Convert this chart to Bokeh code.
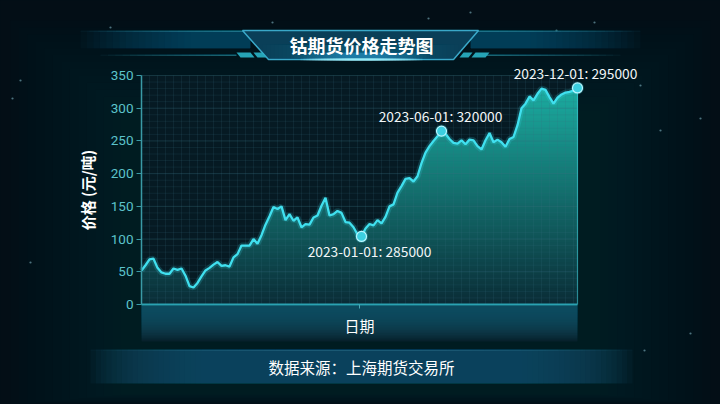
import numpy as np
from bokeh.plotting import figure
from bokeh.models import Range1d, FixedTicker, Label
from bokeh.core.properties import value
from bokeh.embed import file_html
from bokeh.resources import INLINE

# ---------------- data ----------------
price = [52, 60, 69, 70, 56, 49, 47, 47, 55, 53,
         55, 44, 28, 26, 33, 43, 52, 56, 61, 65,
         59, 60, 58, 72, 77, 90, 90, 90, 100, 93,
         106, 122, 135, 149, 146, 150, 129, 138, 128, 133,
         118, 123, 122, 133, 136, 151, 163, 136, 138, 143,
         140, 126, 125, 118, 107, 104, 116, 123, 121, 129,
         124, 134, 150, 153, 171, 181, 192, 193, 188, 196,
         216, 232, 242, 250, 257, 265, 261, 253, 247, 246,
         251, 245, 252, 251, 242, 237, 251, 262, 248, 252,
         248, 241, 253, 256, 274, 300, 307, 318, 312, 322,
         330, 328, 317, 307, 316, 321, 324, 325, 327, 331]
anno_index = [55, 75, 109]
anno_text = ["2023-01-01: 285000", "2023-06-01: 320000", "2023-12-01: 295000"]
y_ticks = [0, 50, 100, 150, 200, 250, 300, 350]
title_text = "钴期货价格走势图"
y_label = "价格 (元/吨)"
x_label = "日期"
source_text = "数据来源：上海期货交易所"

# ---------------- layout constants ----------------
W, H = 720, 404
X0PX, XSTEP = 141.0, 4.0          # pixel of index 0, pixels per index
Y0PX, YSCALE = 304.0, 229.0 / 350  # pixel of value 0, pixels per unit
CJK = "Noto Sans CJK SC"
BG = "#030e16"

vals = np.array(price, dtype=float)
idx = np.arange(len(price))
n_last = len(price) - 1
y_top = 350

p = figure(width=W, height=H, output_backend="svg", toolbar_location=None,
           x_range=Range1d(-X0PX / XSTEP, (W - X0PX) / XSTEP),
           y_range=Range1d(-(H - Y0PX) / YSCALE, Y0PX / YSCALE),
           min_border=0)
p.title.visible = False
p.extra_x_ranges = {"px": Range1d(0, W)}
p.extra_y_ranges = {"px": Range1d(H, 0)}
p.border_fill_color = BG
p.background_fill_color = BG
p.outline_line_color = None
p.grid.visible = False
PX = dict(x_range_name="px", y_range_name="px")


def rect(l, r, t, b, color, alpha):
    p.quad(left=[l], right=[r], top=[t], bottom=[b], fill_color=color,
           fill_alpha=alpha, line_color=None, **PX)


def shape(xs, ys, color, alpha, line_color=None, lw=1.0):
    p.patch(xs, ys, fill_color=color, fill_alpha=alpha, line_color=line_color,
            line_width=lw, **PX)


def nested(l_out, l_in, r_in, r_out, t_out, t_in, b_in, b_out, color, total, n=18):
    """stack of n overlapping boxes shrinking from the outer to the inner box:
    a soft fade without seams"""
    k = np.linspace(0, 1, n)
    a = 1 - (1 - total) ** (1.0 / n)
    p.quad(left=l_out + (l_in - l_out) * k, right=r_out + (r_in - r_out) * k,
           top=t_out + (t_in - t_out) * k, bottom=b_out + (b_in - b_out) * k,
           fill_color=color, fill_alpha=a, line_color=None, **PX)


# ---------- background glow ----------
nested(10, 120, 600, 710, 20, 110, 394, 404, "#0d3644", 0.35, n=14)

# stars
star_x = [272, 428, 556, 594, 20, 12, 700, 690, 644, 30, 660, 470, 110, 640]
star_y = [22, 18, 30, 22, 80, 98, 118, 333, 350, 262, 130, 12, 27, 85]
p.scatter(star_x, star_y, size=2.2, fill_color="#8cc4d4", fill_alpha=0.55,
          line_color=None, **PX)

# ---------- title banner ----------
nested(80, 190, 250, 250, 30, 30, 48, 48, "#1a6884", 0.6)
nested(470, 470, 530, 640, 30, 30, 48, 48, "#1a6884", 0.6)
nested(80, 230, 250, 250, 30, 30, 31.5, 31.5, "#3a9ab8", 0.6)
nested(470, 470, 490, 640, 30, 30, 31.5, 31.5, "#3a9ab8", 0.6)
nested(100, 225, 236, 236, 54, 54, 55.5, 55.5, "#2a8aa4", 0.7)
nested(486, 486, 497, 620, 54, 54, 55.5, 55.5, "#2a8aa4", 0.7)
shape([242, 478, 453, 268], [30, 30, 59, 59], "#0a3f58", 1.0, "#3aa8c8", 1.5)
nested(262, 330, 392, 458, 44, 44, 58, 58, "#1886b8", 0.35)
nested(290, 345, 377, 432, 52, 52, 58, 58, "#35c0f0", 0.45)
nested(300, 350, 372, 422, 58, 58, 60, 60, "#a0f0ff", 0.95)
shape([236, 250, 254, 240], [52, 52, 57, 57], "#2ab4c8", 0.9)
shape([253, 262, 266, 257], [52, 52, 57, 57], "#2ab4c8", 0.9)
shape([463, 472, 468, 459], [52, 52, 57, 57], "#2ab4c8", 0.9)
shape([475, 489, 485, 471], [52, 52, 57, 57], "#2ab4c8", 0.9)
p.text(x=[361], y=[44], text=[title_text], text_font=value(CJK),
       text_font_style="bold", text_font_size="18px", text_color="#ffffff",
       text_align="center", text_baseline="middle", **PX)

# ---------- x-axis band ----------
rect(141, 577, 305, 341, "#061c26", 1.0)
nested(141, 141, 577, 577, 305, 305, 310, 341, "#135a6c", 0.85, n=20)

# ---------- source band ----------
nested(90, 200, 522, 632, 349, 349, 383, 383, "#0e4c62", 0.92, n=22)
nested(90, 300, 422, 632, 349, 349, 350.5, 350.5, "#2a7a92", 0.5)
p.text(x=[361], y=[366], text=[source_text], text_font=value(CJK),
       text_font_size="15.5px", text_color="#ffffff",
       text_align="center", text_baseline="middle", **PX)

# ---------- plot area background ----------
p.quad(left=[0], right=[n_last], bottom=[0], top=[y_top], fill_color="#061a23",
       line_color=None)

# ---------- gradient area (layered, bottom to top) ----------
c0 = np.array([10, 44, 54])
c1 = np.array([27, 172, 160])
step = 5
for lo in range(0, 335, step):
    t = min(1.0, (lo + step / 2) / 330)
    col = c0 + (c1 - c0) * t
    hexc = "#%02x%02x%02x" % tuple(int(round(v)) for v in col)
    p.varea(x=idx, y1=np.minimum(vals, lo), y2=vals, fill_color=hexc, fill_alpha=1.0)

# ---------- grid ----------
gy_minor = np.arange(0, y_top + 1, 10)
gx_minor = np.arange(0, n_last + 1, 2)
p.segment(x0=np.zeros_like(gy_minor), x1=np.full(len(gy_minor), n_last), y0=gy_minor, y1=gy_minor,
          line_color="#3a7080", line_alpha=0.16, line_width=1)
p.segment(x0=gx_minor, x1=gx_minor, y0=np.zeros_like(gx_minor), y1=np.full(len(gx_minor), y_top),
          line_color="#3a7080", line_alpha=0.16, line_width=1)
gy_major = np.array(y_ticks[1:])
p.segment(x0=np.zeros_like(gy_major), x1=np.full(len(gy_major), n_last), y0=gy_major, y1=gy_major,
          line_color="#3a7080", line_alpha=0.22, line_width=1)

# right edge of area
p.segment(x0=[idx[-1]], y0=[0], x1=[idx[-1]], y1=[vals[-1]],
          line_color="#3fcad6", line_alpha=0.6, line_width=1.2)

# line with glow
p.line(idx, vals, line_color="#3ee0ee", line_width=6, line_alpha=0.18)
p.line(idx, vals, line_color="#40e0ef", line_width=2.3)

# markers
ax = [int(i) for i in anno_index]
ay = [price[i] for i in ax]
p.scatter(ax, ay, size=13, fill_color="#40e0ef", fill_alpha=0.25, line_color=None)
p.scatter(ax, ay, size=10, fill_color="#3ccfe0", line_color="#b8f6ff", line_width=1.2)

offsets = [(8, -15), (-1, 15), (-2, 15)]
for i, (xi, yi) in enumerate(zip(ax, ay)):
    p.add_layout(Label(x=xi, y=yi, x_offset=offsets[i][0], y_offset=offsets[i][1],
                       text=anno_text[i], text_align="center", text_baseline="middle",
                       text_color="#f2f6f8", text_font=CJK, text_font_size="13.8px"))

# ---------- axes ----------
p.yaxis.fixed_location = 0
p.yaxis.ticker = FixedTicker(ticks=y_ticks)
p.yaxis.bounds = (0, y_top)
p.yaxis.axis_line_color = "#3a9aa6"
p.yaxis.axis_line_width = 1.5
p.yaxis.major_tick_line_color = "#3a9aa6"
p.yaxis.major_tick_in = 0
p.yaxis.major_tick_out = 5
p.yaxis.minor_tick_line_color = None
p.yaxis.major_label_text_color = "#5cc3cb"
p.yaxis.major_label_text_font = "Roboto"
p.yaxis.major_label_text_font_size = "13.5px"
p.yaxis.major_label_standoff = 3
p.yaxis.axis_label = y_label
p.yaxis.axis_label_text_color = "#ffffff"
p.yaxis.axis_label_text_font = CJK
p.yaxis.axis_label_text_font_style = "bold"
p.yaxis.axis_label_text_font_size = "15px"
p.yaxis.axis_label_standoff = 10

mid_tick = n_last / 2
p.xaxis.fixed_location = 0
p.xaxis.ticker = FixedTicker(ticks=[mid_tick])
p.xaxis.bounds = (0, n_last)
p.xaxis.major_label_overrides = {mid_tick: ""}
p.xaxis.axis_line_color = "#2aa2b2"
p.xaxis.axis_line_width = 2
p.xaxis.major_tick_line_color = "#4aaab8"
p.xaxis.major_tick_in = 0
p.xaxis.major_tick_out = 4
p.xaxis.minor_tick_line_color = None
p.xaxis.major_label_text_font_size = "13px"
p.xaxis.major_label_standoff = 0
p.xaxis.axis_label = x_label
p.xaxis.axis_label_text_color = "#ffffff"
p.xaxis.axis_label_text_font = CJK
p.xaxis.axis_label_text_font_style = "normal"
p.xaxis.axis_label_text_font_size = "15px"
p.xaxis.axis_label_standoff = 6

html = file_html(p, INLINE, title=title_text)
html = html.replace("<head>", "<head><style>html,body{margin:0;padding:0;overflow:hidden;background:%s;}</style>" % BG, 1)
open("out.html", "w").write(html)
